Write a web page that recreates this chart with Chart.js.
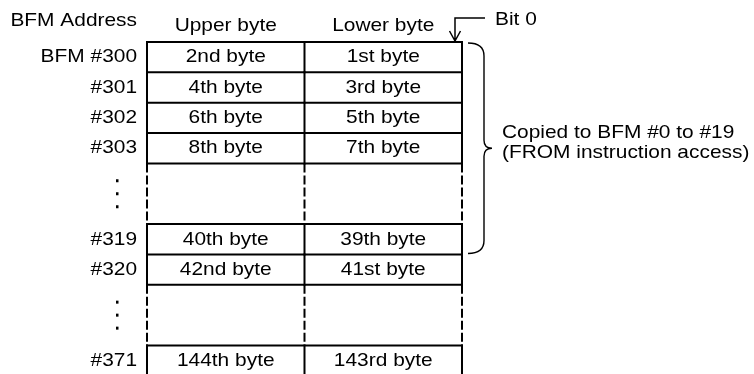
<!DOCTYPE html>
<html>
<head>
<meta charset="utf-8">
<script src="https://cdn.jsdelivr.net/npm/chart.js@4/dist/chart.umd.min.js"></script>
<style>
  html, body { margin: 0; padding: 0; background: #fff; }
  #wrap { width: 754px; height: 374px; }
</style>
</head>
<body>
<div id="wrap"><canvas id="myChart" width="754" height="374"></canvas></div>
<script>
// table contents, one entry per row ('' = the "..." rows that stand for skipped addresses)
const addresses = ['BFM #300', '#301', '#302', '#303', '', '#319', '#320', '', '#371'];
const upperBytes = ['2nd byte', '4th byte', '6th byte', '8th byte', '', '40th byte', '42nd byte', '', '144th byte'];
const lowerBytes = ['1st byte', '3rd byte', '5th byte', '7th byte', '', '39th byte', '41st byte', '', '143rd byte'];
const rowSpans = [1, 1, 1, 1, 2, 1, 1, 2, 1];

const addressHeader = 'BFM Address';
const columnHeaders = ['Upper byte', 'Lower byte'];
const bitLabel = 'Bit 0';
const bracketRange = ['BFM #300', '#319'];
const bracketText = ['Copied to BFM #0 to #19', '(FROM instruction access)'];

const FONT = '19px "Liberation Sans", Arial, sans-serif';
const STRETCH = 1.1;

// row tops in row units
const rowTops = [];
let acc = 0;
rowSpans.forEach(s => { rowTops.push(acc); acc += s; });
const totalRows = acc;

// grid lines as line datasets
const datasets = [];
function seg(x1, y1, x2, y2, dashed) {
  datasets.push({
    data: [{x: x1, y: y1}, {x: x2, y: y2}],
    borderColor: '#000',
    borderWidth: 2,
    borderDash: dashed ? [9, 3] : [],
    borderCapStyle: dashed ? 'butt' : 'square',
    pointRadius: 0,
    fill: false,
    tension: 0
  });
}
for (let i = 0; i < addresses.length; i++) {
  const top = rowTops[i];
  const bottom = top + rowSpans[i];
  const gap = addresses[i] === '';
  seg(0, top, 2, top, false);
  for (let c = 0; c <= 2; c++) seg(c, top, c, bottom, gap);
}
seg(0, totalRows, 2, totalRows, false);

function txt(ctx, s, x, y, align) {
  ctx.save();
  ctx.translate(x, y);
  ctx.scale(STRETCH, 1);
  ctx.textAlign = align;
  ctx.textBaseline = 'middle';
  ctx.fillText(s, 0, 0);
  ctx.restore();
}

const tableText = {
  id: 'tableText',
  afterDatasetsDraw(chart) {
    const ctx = chart.ctx;
    const xs = chart.scales.x, ys = chart.scales.y;
    const left = xs.getPixelForValue(0);
    const mid = xs.getPixelForValue(1);
    const right = xs.getPixelForValue(2);
    const top0 = ys.getPixelForValue(0);
    ctx.save();
    ctx.fillStyle = '#000';
    ctx.strokeStyle = '#000';
    ctx.font = FONT;

    // headers
    txt(ctx, addressHeader, left - 10, top0 - 21, 'right');
    txt(ctx, columnHeaders[0], (left + mid) / 2, top0 - 16.5, 'center');
    txt(ctx, columnHeaders[1], (mid + right) / 2, top0 - 16.5, 'center');

    // rows
    for (let i = 0; i < addresses.length; i++) {
      const yc = ys.getPixelForValue(rowTops[i] + rowSpans[i] / 2);
      if (addresses[i] === '') {
        [-13, 0, 13].forEach(d => ctx.fillRect(left - 31, yc + d - 1.5, 2.5, 3));
        continue;
      }
      txt(ctx, addresses[i], left - 10, yc, 'right');
      txt(ctx, upperBytes[i], (left + mid) / 2, yc, 'center');
      txt(ctx, lowerBytes[i], (mid + right) / 2, yc, 'center');
    }

    // Bit 0 arrow
    ctx.lineWidth = 1.5;
    const ax = right - 7;
    ctx.beginPath();
    ctx.moveTo(right + 23, top0 - 24);
    ctx.lineTo(ax, top0 - 24);
    ctx.lineTo(ax, top0 - 1);
    ctx.moveTo(ax - 5.5, top0 - 11);
    ctx.lineTo(ax, top0 - 1);
    ctx.lineTo(ax + 5.5, top0 - 11);
    ctx.stroke();
    txt(ctx, bitLabel, right + 33, top0 - 22, 'left');

    // brace over the copied rows
    const i0 = addresses.indexOf(bracketRange[0]);
    const i1 = addresses.indexOf(bracketRange[1]);
    const bt = ys.getPixelForValue(rowTops[i0]) + 1;
    const bb = ys.getPixelForValue(rowTops[i1] + rowSpans[i1]) - 1;
    const bm = (bt + bb) / 2;
    const x0 = right + 6, xsp = right + 22, xt = right + 30;
    ctx.lineWidth = 1.4;
    ctx.beginPath();
    ctx.moveTo(x0, bt);
    ctx.quadraticCurveTo(xsp, bt, xsp, bt + 13);
    ctx.lineTo(xsp, bm - 8);
    ctx.quadraticCurveTo(xsp, bm, xt, bm);
    ctx.quadraticCurveTo(xsp, bm, xsp, bm + 8);
    ctx.lineTo(xsp, bb - 13);
    ctx.quadraticCurveTo(xsp, bb, x0, bb);
    ctx.stroke();
    txt(ctx, bracketText[0], right + 40, bm - 15, 'left');
    txt(ctx, bracketText[1], right + 40, bm + 4.5, 'left');
    ctx.restore();
  }
};

const ctx = document.getElementById('myChart').getContext('2d');
const myChart = new Chart(ctx, {
  type: 'line',
  data: { datasets: datasets },
  options: {
    responsive: false,
    animation: false,
    layout: { padding: 0 },
    plugins: { legend: { display: false }, tooltip: { enabled: false } },
    scales: {
      x: { type: 'linear', display: false, min: -0.93333, max: 3.85397 },
      y: { type: 'linear', display: false, reverse: true, min: -1.3839, max: 10.939 }
    }
  },
  plugins: [tableText]
});
</script>
</body>
</html>
